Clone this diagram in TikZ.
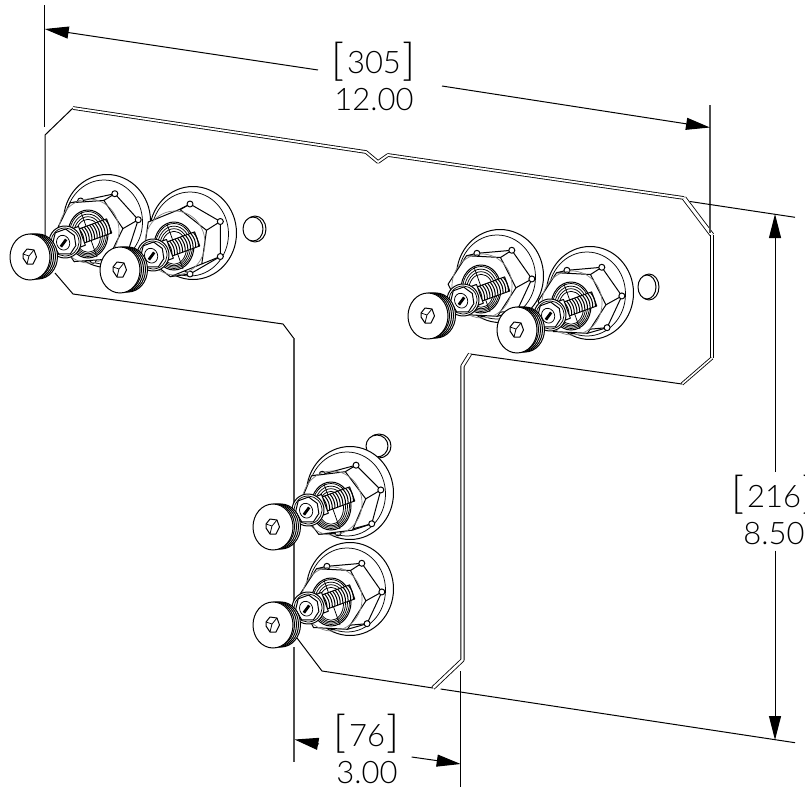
\documentclass[tikz,border=0pt]{standalone}
\usepackage{fontspec}
\setmainfont{Lato Light}
\usetikzlibrary{arrows.meta}
\tikzset{
  part/.style={draw=black,fill=white,line width=1pt,line join=round},
  fine/.style={draw=black,line width=.75pt},
  edge/.style={draw=black,line width=1pt,line join=round},
  dbl/.style={draw=black,line width=.85pt,double=white,double distance=1.9pt,line join=round},
  ext/.style={draw=black,line width=1pt},
  gext/.style={draw=black!70,line width=1.4pt},
  dimline/.style={draw=black,line width=1pt,-{Triangle[length=24pt,width=12pt]}},
  dimtext/.style={inner sep=0pt,align=center,font=\fontsize{31}{37}\selectfont},
}
\newcommand\brk[1]{\smash{\raisebox{-1.5pt}{\fontsize{44}{37}\selectfont[}}\kern2pt #1\kern2pt\smash{\raisebox{-1.5pt}{\fontsize{44}{37}\selectfont]}}}
\newcommand\peg[4]{\draw[part] (#1+2,#2) ellipse [x radius=#3,y radius=#4];
  \draw[part] (#1,#2) ellipse [x radius=#3-1,y radius=#4-1];}
% flange x, y, hex angle, small nut x, y, cap x, y
\newcommand\boltset[7]{%
\begin{scope}[shift={(#1,#2)}]
  \draw[part] (0,-4) ellipse [x radius=43.5,y radius=46.5];
  \draw[fine] (-3,-3) ellipse [x radius=38.5,y radius=42];
  \begin{scope}[shift={(-3,2)}]
    \foreach \k in {0,...,5}{\coordinate (b\k) at ({#3+\k*60}:35);}
  \end{scope}
  \begin{scope}[shift={(-18,6)}]
    \foreach \k in {0,...,5}{\coordinate (f\k) at ({#3+8+\k*60}:34);}
  \end{scope}
  \draw[part] (b0)--(b1)--(b2)--(b3)--(b4)--(b5)--cycle;
  \foreach \k in {0,...,5}{\draw[part] (f\k)--(b\k);
     \draw[part] (b\k) circle [radius=3];}
  \draw[part] (f0)--(f1)--(f2)--(f3)--(f4)--(f5)--cycle;
  \draw[draw=black!50,line width=.7pt] (-18,6) ellipse [x radius=30,y radius=32];
  \draw[part] (-19,9) ellipse [x radius=20,y radius=24];
  \foreach \r in {0,2,4,6}{\draw[fine] (-19,{9+\r*.3}) ellipse [x radius=18.5-\r,y radius=22.5-\r];}
  \draw[fine] (-26,-13)--(-10,32);
\end{scope}
\begin{scope}[shift={(#4,#5)},rotate=20]
  \draw[part] (4,-7.5) rectangle (47,7.5);
  \foreach \t in {12,14.8,...,46}{\draw[draw=black,line width=1pt] (\t,-7.5) .. controls (\t+2,-2) and (\t+2,2) .. (\t,7.5);}
  \draw[part] (8,-10) rectangle (18,10);
  \draw[part] (0,0) circle [radius=16];
  \draw[fine] (0,0) circle [radius=14];
  \draw[part] (-12,-3)--(-6,-12)--(5,-12)--(11,-3)--(9,7)--(1,13)--(-10,9)--cycle;
  \draw[fine] (-2,0) ellipse [x radius=6.5,y radius=7.5];
  \draw[draw=black,line width=2.8pt] (-5.5,3)--(2,-2);
\end{scope}
\begin{scope}[shift={(#6,#7)}]
  \foreach \d in {8,6,4,2}{\draw[part] (\d,-.5) ellipse [x radius=19.5,y radius=22.5];}
  \draw[part] (0,0) ellipse [x radius=20,y radius=23];
  \draw[part] (-7,-3)--(-3,-8)--(4,-7)--(6.5,0)--(3,7)--(-3,7)--(-7,1)--cycle;
  \draw[fine] (-7,-3)--(-1,-1)--(4,-7) (-1,-1)--(-3,7);
\end{scope}}
\begin{document}
\begin{tikzpicture}[x=1pt,y=-1pt]
\useasboundingbox (0,0) rectangle (805,787);
% plate outline
\coordinate (pA) at (45,135);   \coordinate (pB) at (73,108);
\coordinate (pC) at (366,152);  \coordinate (pD) at (378,162);
\coordinate (pE) at (388,155);  \coordinate (pF) at (684,198);
\coordinate (pG) at (712,235);  \coordinate (pH) at (712,358);
\coordinate (pI) at (682,384);  \coordinate (pJ) at (470,354);
\coordinate (pK) at (462.5,366); \coordinate (pL) at (462.5,660);
\coordinate (pM) at (433,688);  \coordinate (pN) at (322,671);
\coordinate (pO) at (297,638);  \coordinate (pP) at (73,294);
\coordinate (pQ) at (55,273);   \coordinate (pR) at (283,324);
\coordinate (pS) at (293.5,338);
\draw[edge] (45,240)--(pA)--(pB);
\draw[dbl] (pB)--(pC)--(pD)--(pE)--(pF);
\draw[dbl,double distance=3pt] (pF)--(pG);
\draw[dbl,double distance=2.4pt] (pG)--(pH);
\draw[dbl,double distance=1.6pt] (pH)--(pI);
\draw[edge] (pI)--(pJ);
\draw[dbl,double distance=2.4pt] (pJ)--(pK)--(pL)--(pM);
\draw[edge] (pM)--(pN)--(pO);
\draw[edge] (pQ)--(pP)--(pR)--(pS);
% extension lines
\coordinate (eA0) at (44.7,5);   \coordinate (eA1) at (44.7,127);
\coordinate (eB0) at (710,105);  \coordinate (eB1) at (710,233);
\coordinate (eC0) at (690,201.5); \coordinate (eC1) at (795,217.3);
\coordinate (eD0) at (440.7,689); \coordinate (eD1) at (795,742.7);
\coordinate (eE0) at (293.8,338); \coordinate (eE1) at (293.8,640);
\coordinate (eF0) at (293.8,647); \coordinate (eF1) at (293.8,762);
\coordinate (eG0) at (460.7,671); \coordinate (eG1) at (460.7,787);
\draw[ext] (eA0)--(eA1);
\draw[gext] (eB0)--(eB1);
\draw[ext] (eC0)--(eC1);
\draw[ext] (eD0)--(eD1);
\draw[gext] (eE0)--(eE1);
\draw[gext] (eF0)--(eF1);
\draw[ext] (eG0)--(eG1);
% dimension text
\node[dimtext] (d305) at (374,81.5) {\brk{305}\\12.00};
\node[dimtext] (d216) at (774,515) {\brk{216}\\8.50};
\node[dimtext] (d76) at (367,754) {\brk{76}\\3.00};
% dimension arrows
\coordinate (tA) at (44.7,29);  \coordinate (tA1) at (318,70);
\coordinate (tB) at (710,127.5); \coordinate (tB1) at (442,86);
\coordinate (tC) at (775,214);  \coordinate (tC1) at (775,472);
\coordinate (tD) at (775,740);  \coordinate (tD1) at (775,550.7);
\coordinate (tE) at (294.5,739.5); \coordinate (tE1) at (319,744);
\coordinate (tF) at (460.7,764); \coordinate (tF1) at (411.7,757);
\draw[dimline] (tA1)--(tA);
\draw[dimline] (tB1)--(tB);
\draw[dimline] (tC1)--(tC);
\draw[dimline] (tD1)--(tD);
\draw[dimline] (tE1)--(tE);
\draw[dimline] (tF1)--(tF);
% pegs and fasteners
\peg{253}{229}{11}{13}
\peg{647}{287}{10}{13}
\peg{377}{446}{12}{12}
\boltset{107}{225}{-12}{65}{242}{30}{257}
\boltset{193}{237}{-30}{153}{255}{120}{270}
\boltset{500}{280}{-5}{463}{300}{428}{316}
\boltset{590}{297}{-5}{550}{315}{517}{330}
\boltset{350}{497}{-15}{308}{510}{273}{527}
\boltset{350}{593}{-5}{308}{608}{273}{625}
\end{tikzpicture}
\end{document}
